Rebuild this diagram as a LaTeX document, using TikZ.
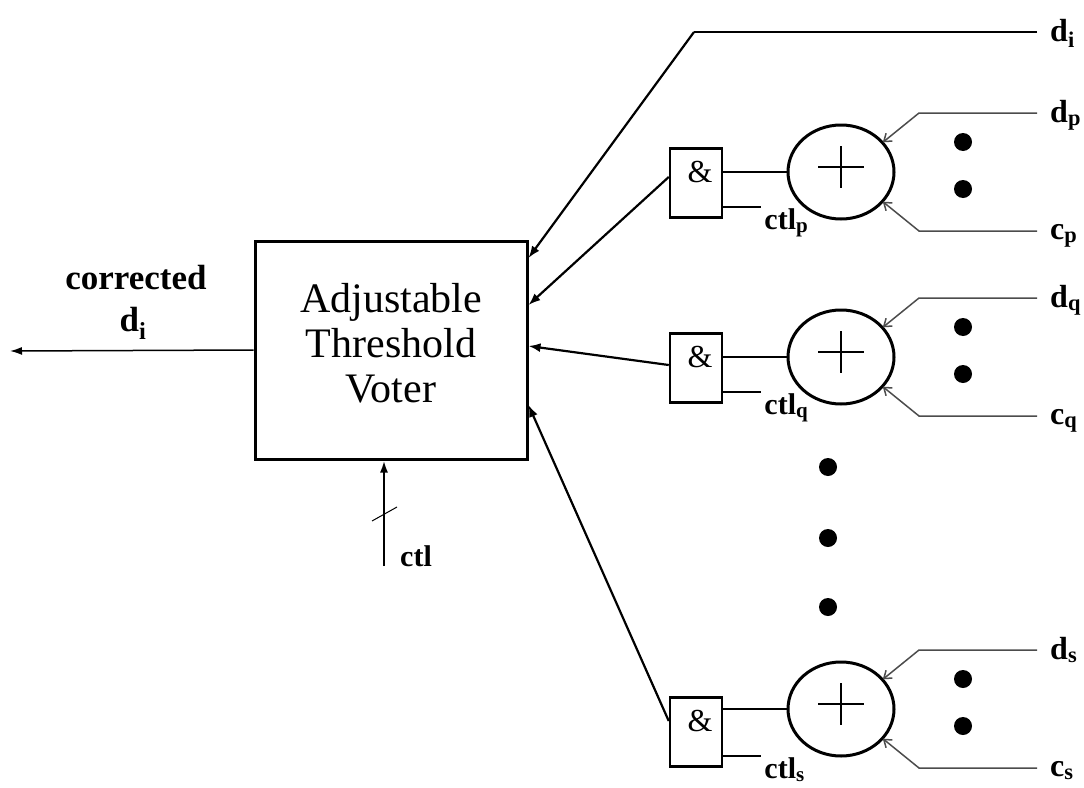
\documentclass[tikz,border=0pt]{standalone}
\usepackage{fontspec}
\setmainfont{Liberation Serif}
\usetikzlibrary{arrows.meta,calc,shapes.geometric}

\begin{document}
\begin{tikzpicture}[x=1pt,y=-1pt,
  voterbox/.style={draw,line width=3pt,minimum width=272pt,minimum height=218pt,inner sep=0},
  gatebox/.style={draw,line width=2.5pt,minimum width=52pt,minimum height=69pt,inner sep=0},
  xorcirc/.style={draw,ellipse,line width=3pt,minimum width=106pt,minimum height=94pt,inner sep=0},
  feed/.style={line width=2.2pt,-{Latex[length=12pt,width=9pt]}},
  wire/.style={line width=1.5pt},
  inwire/.style={line width=1.5pt,black!70,-{Straight Barb[length=7pt,width=10pt]},shorten >=1pt},
  lbl/.style={font=\fontsize{32}{36}\selectfont\bfseries,inner sep=0},
  biglbl/.style={font=\fontsize{35}{40}\selectfont\bfseries,inner sep=0},
  ctllbl/.style={font=\fontsize{30}{34}\selectfont\bfseries,inner sep=0},
  blob/.style={fill=black,circle,minimum size=18pt,inner sep=0}
]
\useasboundingbox (0,0) rectangle (1084,787);

% voter block
\node[voterbox] (voter) at (391,350) {};
\node[font=\fontsize{42}{45}\selectfont,align=center,inner sep=0] (votertext) at (391,343)
  {Adjustable\\Threshold\\Voter};

% corrected output
\coordinate (out) at (10,351);
\draw[wire,-{Latex[length=12pt,width=8pt]}] (voter.west) -- (out);
\node[biglbl,anchor=base] (corrlbl) at (136,289) {corrected};
\node[biglbl,anchor=base] (outlbl) at (133,331) {d\textsubscript{i}};

% threshold control bus
\coordinate (ctlsrc) at (384,566);
\draw[line width=2.2pt,-{Latex[length=12pt,width=8pt]}] (ctlsrc) -- (ctlsrc |- voter.south);
\draw[line width=1pt] (372,521) -- (397,507);
\node[ctllbl,anchor=base west] (ctllbl) at (400,566) {ctl};

% direct data input
\coordinate (din) at (1037,32);
\coordinate (dibend) at (694,32);
\draw[wire] (din) -- (dibend);
\draw[feed] (dibend) -- (voter.east |- 0,258);
\node[lbl,anchor=base west] (dinlbl) at (1050,41) {d\textsubscript{i}};

% check stages: XOR of data and check bit, gated by control
\foreach \n/\cy/\gy/\vy/\go in {p/172/183/305/-6, q/357/368/346/-3, s/709/732/405/-11}{
  \node[xorcirc] (c\n) at (841,\cy) {};
  \draw[line width=1.8pt] ($(c\n.center)+(-23,-5)$) -- ($(c\n.center)+(23,-5)$);
  \draw[line width=1.8pt] ($(c\n.center)+(0,-26)$) -- ($(c\n.center)+(0,16)$);
  \node[gatebox] (g\n) at (696,\gy) {};
  \node[font=\fontsize{32}{36}\selectfont,inner sep=0] (amp\n) at ($(g\n.center)+(4,-11)$) {\&};
  \draw[wire] (c\n.west) -- (c\n.west -| g\n.east);
  \coordinate (k\n) at ($(g\n.east)+(38,24)$);
  \draw[wire] ($(g\n.east)+(0,24)$) -- (k\n);
  \node[ctllbl,anchor=base west] (kl\n) at ($(k\n)+(3,22)$) {ctl\textsubscript{\n}};
  % data and check-bit inputs
  \coordinate (dn\n) at (1037,{\cy-59});
  \coordinate (db\n) at (919,{\cy-59});
  \coordinate (cn\n) at (1037,{\cy+59});
  \coordinate (cb\n) at (919,{\cy+59});
  \draw[inwire] (dn\n) -- (db\n) -- ($(c\n.center)+(41,-29)$);
  \draw[inwire] (cn\n) -- (cb\n) -- ($(c\n.center)+(41,29)$);
  \node[lbl,anchor=base west] (dl\n) at ($(dn\n)+(13,9)$) {d\textsubscript{\n}};
  \node[lbl,anchor=base west] (cl\n) at ($(cn\n)+(13,8)$) {c\textsubscript{\n}};
  \node[blob] (ua\n) at (963,{\cy-30}) {};
  \node[blob] (ub\n) at (963,{\cy+17}) {};
  % gated result into the voter
  \draw[feed] ($(g\n.west)+(0,\go)$) -- (voter.east |- 0,\vy);
}

% ellipsis between stages
\node[blob] (va) at (828,467) {};
\node[blob] (vb) at (828,538) {};
\node[blob] (vc) at (828,607) {};
\end{tikzpicture}
\end{document}
